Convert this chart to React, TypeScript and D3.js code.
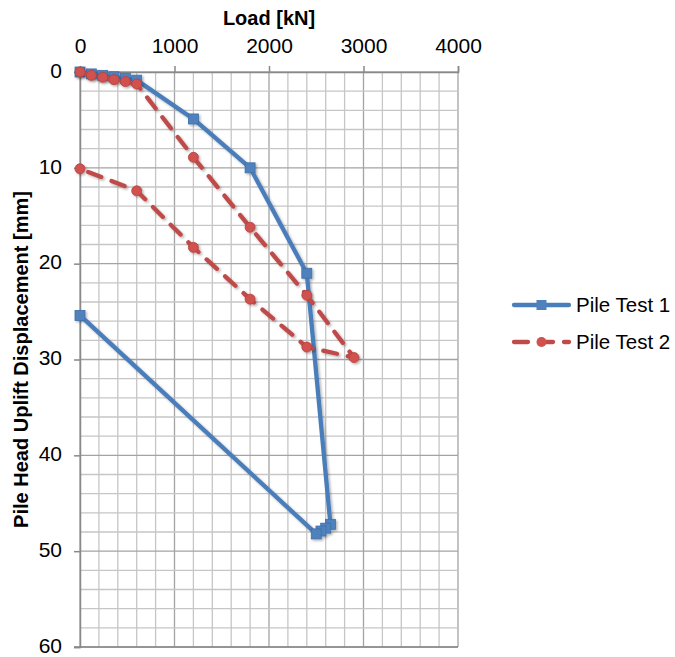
import React, { useEffect, useRef } from 'react'
import * as d3 from 'd3'

// axis ticks
const loadTicks = [0, 1000, 2000, 3000, 4000]
const dispTicks = [0, 10, 20, 30, 40, 50, 60]

// Pile Test 1 (load kN, uplift mm)
const test1Load = [0, 120, 240, 360, 480, 600, 1200, 1800, 2400, 2650, 2600, 2550, 2500, 0]
const test1Disp = [0, 0.2, 0.35, 0.5, 0.65, 0.85, 4.9, 10, 21, 47.2, 47.6, 47.9, 48.2, 25.4]

// Pile Test 2
const test2Load = [0, 120, 240, 360, 480, 600, 1200, 1800, 2400, 2900, 2400, 1800, 1200, 600, 0]
const test2Disp = [0, 0.35, 0.55, 0.8, 1.0, 1.25, 8.9, 16.2, 23.3, 29.8, 28.7, 23.7, 18.3, 12.4, 10.1]

const seriesNames = ['Pile Test 1', 'Pile Test 2']

function App() {
    const ref = useRef<SVGSVGElement>(null)

    useEffect(() => {
        var svg = d3.select(ref.current)
        svg.selectAll('*').remove()

        var x = d3.scaleLinear().domain([0, 4000]).range([80, 458])
        var y = d3.scaleLinear().domain([0, 60]).range([72, 647])

        var defs = svg.append('defs')
        var f = defs.append('filter').attr('id', 'shadow')
            .attr('x', '-20%').attr('y', '-20%').attr('width', '140%').attr('height', '140%')
        f.append('feDropShadow').attr('dx', 1.5).attr('dy', 1.5)
            .attr('stdDeviation', 1.2).attr('flood-color', '#000').attr('flood-opacity', 0.3)

        // grid
        var grid = svg.append('g')
        grid.selectAll('.vminor').data(d3.range(0, 4001, 200)).enter().append('line')
            .attr('x1', d => x(d)).attr('x2', d => x(d))
            .attr('y1', y(0)).attr('y2', y(60))
            .attr('stroke', d => d % 1000 === 0 ? '#A3A3A3' : '#C6C6C6')
            .attr('stroke-width', 1.3)
        grid.selectAll('.hminor').data(d3.range(0, 61, 2)).enter().append('line')
            .attr('x1', x(0)).attr('x2', x(4000))
            .attr('y1', d => y(d)).attr('y2', d => y(d))
            .attr('stroke', d => d % 10 === 0 ? '#A3A3A3' : '#C6C6C6')
            .attr('stroke-width', 1.3)

        // axes
        var xAxis = d3.axisTop(x).tickValues(loadTicks).tickFormat(d3.format('d')).tickSize(6).tickPadding(13)
        var gx = svg.append('g').attr('transform', 'translate(0,' + y(0) + ')').call(xAxis)
        var yAxis = d3.axisLeft(y).tickValues(dispTicks).tickFormat(d3.format('d')).tickSize(6).tickPadding(12)
        var gy = svg.append('g').attr('transform', 'translate(' + x(0) + ',0)').call(yAxis)
        ;[gx, gy].forEach(g => {
            g.attr('font-size', null).attr('font-family', null)
            g.select('.domain').attr('stroke', '#898989').attr('stroke-width', 1.5)
            g.selectAll('.tick line').attr('stroke', '#898989').attr('stroke-width', 1.5)
            g.selectAll('.tick text').attr('fill', '#000')
                .style('font-family', 'Liberation Sans, Arial, sans-serif').style('font-size', '21px')
        })
        gx.selectAll('.tick text').attr('dy', '0')
        gy.selectAll('.tick text').attr('dy', '0.25em')
        svg.append('line').attr('x1', x(0) - 6).attr('x2', x(4000))
            .attr('y1', y(60)).attr('y2', y(60)).attr('stroke', '#898989').attr('stroke-width', 1.5)

        // titles
        svg.append('text').attr('x', (x(0) + x(4000)) / 2).attr('y', 25)
            .attr('text-anchor', 'middle').style('font-family', 'Liberation Sans, Arial, sans-serif')
            .style('font-size', '20px').style('font-weight', 'bold').text('Load [kN]')
        svg.append('text').attr('transform', 'translate(28,' + (y(0) + y(60)) / 2 + ') rotate(-90)')
            .attr('text-anchor', 'middle').style('font-family', 'Liberation Sans, Arial, sans-serif')
            .style('font-size', '20px').style('font-weight', 'bold').text('Pile Head Uplift Displacement [mm]')

        var line = d3.line<[number, number]>().x(d => x(d[0])).y(d => y(d[1]))
        var pts1 = test1Load.map((v, i) => [v, test1Disp[i]] as [number, number])
        var pts2 = test2Load.map((v, i) => [v, test2Disp[i]] as [number, number])

        var blue = '#4A7EBB'
        var red = '#BE4B48'

        // series 1
        var s1 = svg.append('g').attr('filter', 'url(#shadow)')
        s1.append('path').attr('d', line(pts1)).attr('fill', 'none')
            .attr('stroke', blue).attr('stroke-width', 4.3).attr('stroke-linejoin', 'round').attr('stroke-linecap', 'round')
        s1.selectAll('rect').data(pts1).enter().append('rect')
            .attr('x', d => x(d[0]) - 5).attr('y', d => y(d[1]) - 5)
            .attr('width', 10).attr('height', 10)
            .attr('fill', '#4F81BD').attr('stroke', '#3F6FAA').attr('stroke-width', 0.8)

        // series 2
        var s2 = svg.append('g').attr('filter', 'url(#shadow)')
        s2.append('path').attr('d', line(pts2)).attr('fill', 'none')
            .attr('stroke', red).attr('stroke-width', 4.3).attr('stroke-dasharray', '14 11')
            .attr('stroke-linejoin', 'round').attr('stroke-linecap', 'round')
        s2.selectAll('circle').data(pts2).enter().append('circle')
            .attr('cx', d => x(d[0])).attr('cy', d => y(d[1])).attr('r', 5)
            .attr('fill', '#D0514E').attr('stroke', '#B5413E').attr('stroke-width', 0.8)

        // legend
        var lg = svg.append('g')
        seriesNames.forEach((name, i) => {
            var ly = 305 + i * 37
            var g = lg.append('g')
            if (i === 0) {
                g.append('line').attr('x1', 514).attr('x2', 569).attr('y1', ly).attr('y2', ly)
                    .attr('stroke', blue).attr('stroke-width', 4.3).attr('stroke-linecap', 'round')
                g.append('rect').attr('x', 536.5).attr('y', ly - 5).attr('width', 10).attr('height', 10).attr('fill', '#4F81BD')
            } else {
                g.append('line').attr('x1', 514).attr('x2', 569).attr('y1', ly).attr('y2', ly)
                    .attr('stroke', red).attr('stroke-width', 4.3).attr('stroke-linecap', 'round')
                    .attr('stroke-dasharray', '14 11')
                g.append('circle').attr('cx', 541.5).attr('cy', ly).attr('r', 5).attr('fill', '#D0514E')
            }
            g.append('text').attr('x', 576).attr('y', ly + 7)
                .style('font-family', 'Liberation Sans, Arial, sans-serif').style('font-size', '20.5px')
                .text(name)
        })
    }, [])

    return (
        <svg ref={ref} width={675} height={657}
            style={{ position: 'absolute', left: 0, top: 0, background: '#fff' }} />
    )
}

export default App
